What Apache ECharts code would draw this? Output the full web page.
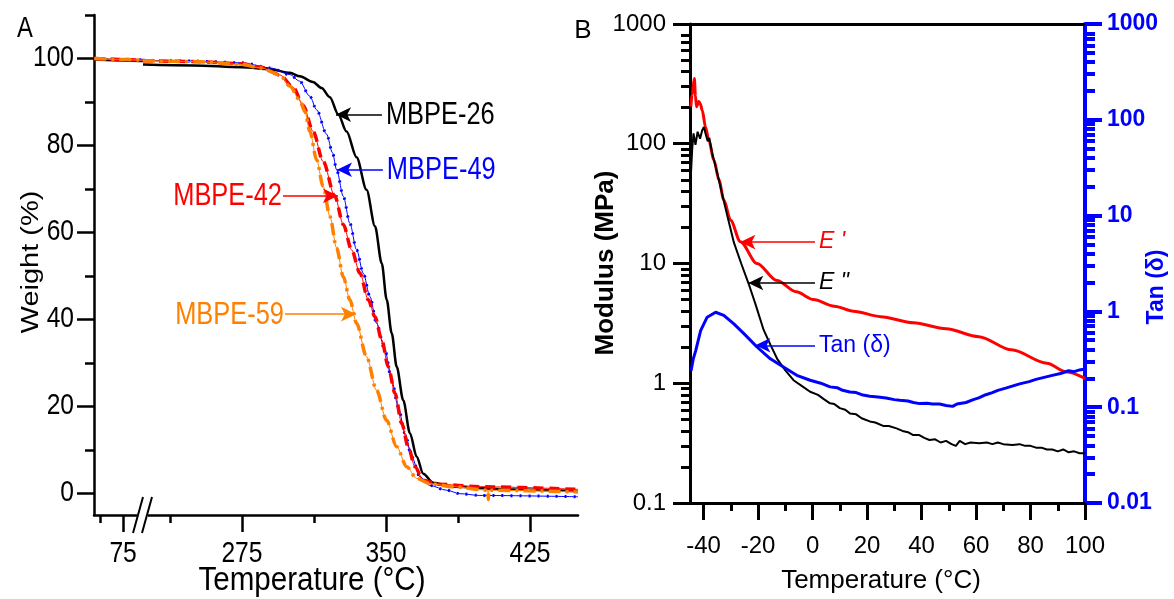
<!DOCTYPE html>
<html>
<head>
<meta charset="utf-8">
<script src="https://cdn.jsdelivr.net/npm/echarts@6/dist/echarts.min.js"></script>
<style>
  html, body { margin: 0; padding: 0; background: #fff; }
  #chart { width: 1174px; height: 599px; }
</style>
</head>
<body>
<div id="chart"></div>
<script>
// ---- panel A: TGA, [temperature (°C), weight (%)] ----
const mbpe26 = [[28, 99.8], [60, 99.6], [90, 99.5], [107.5, 99.4],
  [223.5, 98.6], [250, 98.4], [275, 98.0], [290, 97.5], [300, 96.7], [305.2, 95.9], [312, 94.6],
  [316.5, 93.2], [320.8, 91.1], [325.2, 87.1], [329.5, 83.2], [334.7, 77.3], [339.9, 69.8],
  [344.3, 61.4], [347.8, 52.9], [350.4, 44.5], [353, 36.8], [355.6, 29.1], [359, 21.4],
  [362.5, 13.8], [366, 8.4], [369.4, 4.5], [374.6, 2.4], [385, 1.5], [416, 0.85], [450, 0.45]];
const mbpe49 = [[28, 100], [60, 99.8], [107.5, 99.7],
  [223.5, 99.6], [250, 99.4], [275, 99.0], [290, 97.8], [300, 96.3], [305, 94.8], [310.4, 91.3],
  [313.9, 88.2], [319.1, 82.6], [322.2, 78.3], [324.3, 74.4], [327.8, 68.3], [331.2, 62.1],
  [334.7, 56], [338.2, 50.6], [341.7, 45.2], [345.1, 39.1], [349.5, 32.9], [353, 26],
  [356.4, 19.9], [359.9, 13.8], [363.4, 8.4], [367.7, 3.8], [372.9, 1.8], [381.6, 0.7],
  [388.5, -0.1], [398.9, -0.5], [450, -0.8]];
const mbpe42 = [[28, 100], [60, 99.8], [107.5, 99.6],
  [223.5, 99.5], [250, 99.3], [275, 98.8], [285, 98.0], [294.8, 96.2], [301.7, 93.4],
  [306.9, 89.2], [312.1, 83.2], [317.3, 76.3], [323.4, 68.3], [327.8, 61.8], [332.1, 56],
  [336.5, 50.6], [340.8, 44.5], [344.3, 40.6], [347.8, 35.3], [351.2, 29.1], [354.7, 23],
  [358.2, 16.1], [361.6, 10.7], [365.1, 6.1], [369.4, 3], [376.4, 2.1], [399, 1.5], [450, 0.9]];
const mbpe59 = [[28, 100], [60, 99.8], [107.5, 99.6],
  [223.5, 99.5], [250, 99.3], [275, 98.6], [285, 97.8], [294.8, 96.2], [300, 93.6],
  [305.2, 90.4], [307.8, 87.8], [310.4, 83.2], [313.9, 76.7], [317.3, 70.6], [320.8, 63.7],
  [324.3, 56.4], [327.8, 49.8], [331.2, 44.5], [334.7, 39.1], [339.9, 31.4], [345.1, 23.7],
  [350.3, 16.8], [355.6, 10.7], [360.8, 6.1], [366, 3.4], [372.9, 2.2], [385, 1.5],
  [403, 0.7], [403.3, -1.5], [403.6, 0.7], [450, 0.3]];

const tempLowMajor = [75];
const tempLowMinor = [37.5];
const tempHighMajor = [275, 350, 425];
const tempHighMinor = [237.5, 312.5, 387.5];
const weightMajor = [0, 20, 40, 60, 80, 100];
const weightMinor = [10, 30, 50, 70, 90, 110];

// ---- panel B: DMA, [temperature (°C), value] ----
const storageModulus = [[-44.7, 204], [-44.2, 260], [-43.4, 350], [-43.0, 250], [-42.6, 204],
  [-41.8, 225], [-41.2, 215], [-40.5, 190], [-39.3, 138], [-38.1, 107], [-36.2, 73],
  [-34.4, 50], [-32.6, 34], [-30.1, 23], [-26.5, 15.2], [-20.4, 10], [-13.1, 7.2],
  [-6, 5.8], [0.3, 5.0], [8, 4.4], [15, 4.0], [25, 3.6], [37, 3.2], [49, 2.85],
  [61, 2.45], [73, 1.9], [86, 1.47], [93, 1.25], [100, 1.1]];
const lossModulus = [[-44.7, 53], [-44.2, 90], [-43.7, 122], [-43.0, 98], [-42.2, 126],
  [-41.3, 110], [-40.5, 130], [-39.9, 138], [-39.3, 122], [-38.5, 105], [-37.9, 112],
  [-36.8, 82], [-35, 57], [-33.2, 38], [-31.3, 25], [-28.9, 15], [-26.2, 10],
  [-23.5, 6.8], [-21, 4.6], [-18, 2.8], [-15.5, 2.1], [-13, 1.6], [-10, 1.28], [-7, 1.06],
  [-4, 0.95], [-0.9, 0.85], [2, 0.8], [4, 0.74], [6.4, 0.68], [8, 0.67], [10, 0.62],
  [12, 0.6], [13.7, 0.56], [16, 0.55], [18, 0.51], [21, 0.48], [23, 0.47], [25.9, 0.44],
  [28, 0.44], [30.8, 0.42], [33, 0.4], [35, 0.39], [36.8, 0.37], [39, 0.37], [41, 0.35],
  [42.9, 0.336], [45, 0.34], [47, 0.32], [49, 0.33], [51, 0.31], [52.6, 0.3], [54, 0.33],
  [56, 0.31], [58, 0.32], [61.2, 0.316], [64, 0.32], [66, 0.31], [68, 0.32], [70, 0.31],
  [73.4, 0.305], [76, 0.31], [78, 0.3], [80, 0.3], [82, 0.29], [84, 0.29], [86, 0.28],
  [88, 0.28], [90, 0.27], [92, 0.28], [94, 0.265], [96, 0.27], [98, 0.26], [100, 0.26]];
const tanDelta = [[-44.6, 0.24], [-43.8, 0.32], [-42.9, 0.39], [-41.1, 0.63], [-38.7, 0.87],
  [-35.6, 0.98], [-32.6, 0.91], [-28.9, 0.74], [-25.3, 0.59], [-20.4, 0.425], [-15.5, 0.32],
  [-10.7, 0.263], [-5.8, 0.215], [-0.9, 0.191], [3, 0.178], [6.4, 0.163], [9, 0.16],
  [11, 0.15], [13.7, 0.144], [16, 0.142], [18, 0.135], [21, 0.13], [24, 0.128], [27, 0.125],
  [30, 0.12], [32, 0.118], [35, 0.116], [37, 0.112], [39.3, 0.109], [42, 0.11], [44, 0.108],
  [46.6, 0.108], [49, 0.104], [51.4, 0.102], [53, 0.108], [56.3, 0.112], [59, 0.12],
  [61, 0.125], [63.6, 0.135], [66, 0.142], [68, 0.15], [70.9, 0.158], [73, 0.165],
  [76, 0.175], [79.5, 0.185], [82, 0.195], [85, 0.205], [88, 0.215], [91, 0.225],
  [94, 0.24], [96, 0.235], [98, 0.245], [100, 0.25]];

const dmaTempMajor = [-40, -20, 0, 20, 40, 60, 80, 100];
const dmaTempMinor = [-30, -10, 10, 30, 50, 70, 90];
const modulusMajor = [0.1, 1, 10, 100, 1000];
const modulusMinor = [0.2, 0.3, 0.4, 0.5, 0.6, 0.7, 0.8, 0.9, 2, 3, 4, 5, 6, 7, 8, 9,
  20, 30, 40, 50, 60, 70, 80, 90, 200, 300, 400, 500, 600, 700, 800, 900];
const tanMajor = [0.01, 0.1, 1, 10, 100, 1000];
const tanMinor = [0.02, 0.03, 0.04, 0.05, 0.06, 0.07, 0.08, 0.09, ...modulusMinor];

const breakLow = 107.5;
const breakHigh = 223.5;

// panel A text in the reference is horizontally squeezed (no narrow font installed)
const squeeze = 0.82;
const fontFam = "'Liberation Sans', Arial, sans-serif";

const chart = echarts.init(document.getElementById('chart'));

function tickAxis(extra, major, len, color, width) {
  return Object.assign({
    splitLine: { show: false },
    axisLine: { show: true, onZero: false, lineStyle: { color, width } },
    axisTick: { show: true, length: len, customValues: major, lineStyle: { color, width } }
  }, extra);
}
function minorAxis(extra, minor, len, color, width) {
  return Object.assign({
    splitLine: { show: false },
    axisLine: { show: false, onZero: false },
    axisLabel: { show: true, customValues: minor, color: 'rgba(0,0,0,0)' },
    axisTick: { show: true, length: len, customValues: minor, lineStyle: { color, width } }
  }, extra);
}
// labels for panel A are drawn as squeezed text further down
const hiddenLabels = (vals) => ({ show: true, customValues: vals, color: 'rgba(0,0,0,0)' });

const labelB = { fontSize: 24, fontFamily: fontFam, color: '#000' };
const logFmt = (v) => String(+Number(v).toPrecision(3));

const xAxis = [
  tickAxis({ gridIndex: 0, type: 'value', position: 'bottom', min: 27.5, max: breakLow,
    axisLabel: hiddenLabels(tempLowMajor) }, tempLowMajor, 17, '#000', 2.5),
  minorAxis({ gridIndex: 0, type: 'value', position: 'bottom', min: 27.5, max: breakLow }, tempLowMinor, 8, '#000', 2.5),
  tickAxis({ gridIndex: 1, type: 'value', position: 'bottom', min: breakHigh, max: 450,
    axisLabel: hiddenLabels(tempHighMajor) }, tempHighMajor, 17, '#000', 2.5),
  minorAxis({ gridIndex: 1, type: 'value', position: 'bottom', min: breakHigh, max: 450 }, tempHighMinor, 8, '#000', 2.5),
  tickAxis({ gridIndex: 2, type: 'value', position: 'bottom', min: -45, max: 100,
    axisLabel: Object.assign({ customValues: dmaTempMajor, margin: 31 }, labelB) },
    dmaTempMajor, 17, '#000', 3),
  minorAxis({ gridIndex: 2, type: 'value', position: 'bottom', min: -45, max: 100 }, dmaTempMinor, 8, '#000', 3),
  { gridIndex: 2, type: 'value', position: 'top', min: -45, max: 100, splitLine: { show: false },
    axisLine: { show: true, onZero: false, lineStyle: { color: '#000', width: 3 } },
    axisTick: { show: false }, axisLabel: { show: false } }
];

const yAxis = [
  tickAxis({ gridIndex: 0, type: 'value', position: 'left', min: -5, max: 110,
    axisLabel: hiddenLabels(weightMajor) }, weightMajor, 17, '#000', 2.5),
  minorAxis({ gridIndex: 0, type: 'value', position: 'left', min: -5, max: 110 }, weightMinor, 9, '#000', 2.5),
  { gridIndex: 1, type: 'value', position: 'left', min: -5, max: 110, show: false },
  tickAxis({ gridIndex: 2, type: 'log', logBase: 10, position: 'left', min: 0.1, max: 1000,
    axisLabel: Object.assign({ customValues: modulusMajor, margin: 24, formatter: logFmt }, labelB) },
    modulusMajor, 17, '#000', 3),
  minorAxis({ gridIndex: 2, type: 'log', logBase: 10, position: 'left', min: 0.1, max: 1000 }, modulusMinor, 9, '#000', 3),
  tickAxis({ gridIndex: 2, type: 'log', logBase: 10, min: 0.01, max: 1000, position: 'right',
    axisLabel: Object.assign({ customValues: tanMajor, margin: 22, formatter: logFmt },
      labelB, { color: '#0000ff', fontWeight: 'bold', fontSize: 23 }) },
    tanMajor, 17, '#0000ff', 4),
  minorAxis({ gridIndex: 2, type: 'log', logBase: 10, min: 0.01, max: 1000, position: 'right' },
    tanMinor, 10, '#0000ff', 4)
];

const lowPart = (pts) => pts.filter((p) => p[0] <= breakLow);
const highPart = (pts) => pts.filter((p) => p[0] >= breakHigh);

function arrowLine(text, color, from, to, font) {
  return {
    silent: true,
    symbol: ['none', 'arrow'],
    symbolSize: [11, 15],
    lineStyle: { color, width: 1.5, type: 'solid' },
    emphasis: { disabled: true },
    label: text ? Object.assign({ show: true, position: 'start', distance: 4, formatter: text, color }, font)
      : { show: false },
    data: [[{ coord: from }, { coord: to }]]
  };
}

const tgaCurves = [
  { pts: mbpe26, color: '#000000', styles: [{ width: 2.5, type: 'solid' }],
    name: 'MBPE-26', from: [347.9, 87.1], to: [324, 87.1] },
  { pts: mbpe49, color: '#0000ff', styles: [{ width: 1, type: 'solid' }, { width: 3, type: [2, 7] }],
    name: 'MBPE-49', from: [348.4, 74.4], to: [324.5, 74.4] },
  { pts: mbpe42, color: '#ff0000', styles: [{ width: 1, type: 'solid' }, { width: 3.5, type: [10, 6] }],
    name: 'MBPE-42', from: [296.4, 68.4], to: [325, 68.4] },
  { pts: mbpe59, color: '#ff8000', styles: [{ width: 1, type: 'solid' }, { width: 3.5, type: [12, 5, 3, 5] }],
    name: 'MBPE-59', from: [297.4, 41.2], to: [334.4, 41.2] }
];

const series = [];
tgaCurves.forEach((c) => {
  c.styles.forEach((s, i) => {
    const common = {
      type: 'line', showSymbol: false, smooth: 0.3, smoothMonotone: 'x',
      lineStyle: { color: c.color, width: s.width, type: s.type }
    };
    series.push(Object.assign({ xAxisIndex: 0, yAxisIndex: 0, data: lowPart(c.pts) }, common));
    const hi = Object.assign({ xAxisIndex: 2, yAxisIndex: 2, data: highPart(c.pts), clip: false }, common);
    if (i === 0) hi.markLine = arrowLine(null, c.color, c.from, c.to);
    series.push(hi);
  });
});

const fontE = { fontSize: 23, fontFamily: fontFam, fontStyle: 'italic' };
series.push({
  type: 'line', xAxisIndex: 4, yAxisIndex: 3, data: storageModulus, showSymbol: false, clip: false,
  smooth: 0.3, smoothMonotone: 'x',
  lineStyle: { color: '#ff0000', width: 3 },
  markLine: arrowLine("E '", '#ff0000', [0.9, 15.1], [-26.5, 15.1], fontE)
});
series.push({
  type: 'line', xAxisIndex: 4, yAxisIndex: 3, data: lossModulus, showSymbol: false, clip: false,
  lineStyle: { color: '#000000', width: 2 },
  markLine: arrowLine('E "', '#000000', [0.9, 6.87], [-23.6, 6.87], fontE)
});
series.push({
  type: 'line', xAxisIndex: 4, yAxisIndex: 5, data: tanDelta, showSymbol: false, clip: false,
  lineStyle: { color: '#0000ff', width: 3 },
  markLine: arrowLine('Tan (δ)', '#0000ff', [0.9, 0.443], [-21, 0.443],
    { fontSize: 23, fontFamily: fontFam })
});

chart.setOption({
  animation: false,
  backgroundColor: '#fff',
  grid: [
    { left: 94, top: 15, width: 49, height: 500 },
    { left: 143, top: 15, width: 435, height: 500 },
    { left: 690, top: 24, width: 395, height: 479 }
  ],
  xAxis,
  yAxis,
  series
});

// ---- text (panel A text squeezed like the reference) ----
function txt(x, y, text, size, opts) {
  opts = opts || {};
  return {
    type: 'text', x, y, z: 100,
    rotation: opts.rotation || 0,
    scaleX: opts.scaleX || 1,
    scaleY: opts.scaleY || 1,
    style: {
      text, fill: opts.color || '#000', fontSize: size, fontFamily: fontFam,
      fontWeight: opts.weight || 'normal',
      align: opts.align || 'center', verticalAlign: 'middle'
    }
  };
}

const px = (i, v) => chart.convertToPixel({ xAxisIndex: i }, v);
const py = (i, v) => chart.convertToPixel({ yAxisIndex: i }, v);
const axisBottomA = py(0, -5);
const axisLeftA = px(0, 27.5);

const graphic = [];
tempLowMajor.forEach((v) => graphic.push(txt(px(0, v), axisBottomA + 39, String(v), 30, { scaleX: squeeze })));
tempHighMajor.forEach((v) => graphic.push(txt(px(2, v), axisBottomA + 39, String(v), 30, { scaleX: squeeze })));
weightMajor.forEach((v) => graphic.push(txt(axisLeftA - 20, py(0, v) - 1, String(v), 30,
  { scaleX: squeeze, align: 'right' })));
tgaCurves.forEach((c) => {
  const p = chart.convertToPixel({ xAxisIndex: 2, yAxisIndex: 2 }, c.from);
  const right = c.from[0] > c.to[0];
  graphic.push(txt(p[0] + (right ? 4 : -1), p[1] + 1, c.name, 31,
    { scaleX: squeeze, align: right ? 'left' : 'right', color: c.color }));
});

graphic.push(
  txt(25, 29, 'A', 29, { scaleX: squeeze }),
  txt(583, 31, 'B', 26),
  txt(312, 581, 'Temperature (°C)', 34, { scaleX: 0.87 }),
  txt(31, 262, 'Weight (%)', 29, { rotation: Math.PI / 2, scaleY: squeeze }),
  txt(881, 581, 'Temperature (°C)', 26),
  txt(606, 263, 'Modulus (MPa)', 26, { rotation: Math.PI / 2, weight: 'bold' }),
  txt(1157, 287, 'Tan (δ)', 23, { rotation: Math.PI / 2, weight: 'bold', color: '#0000ff' }),
  // axis break marks
  { type: 'rect', z: 100, shape: { x: 137, y: 509, width: 11, height: 10 }, style: { fill: '#fff' } },
  { type: 'line', z: 101, shape: { x1: 133, y1: 533, x2: 143, y2: 497 }, style: { stroke: '#000', lineWidth: 2 } },
  { type: 'line', z: 101, shape: { x1: 142, y1: 533, x2: 152, y2: 497 }, style: { stroke: '#000', lineWidth: 2 } }
);

chart.setOption({ graphic });
</script>
</body>
</html>
